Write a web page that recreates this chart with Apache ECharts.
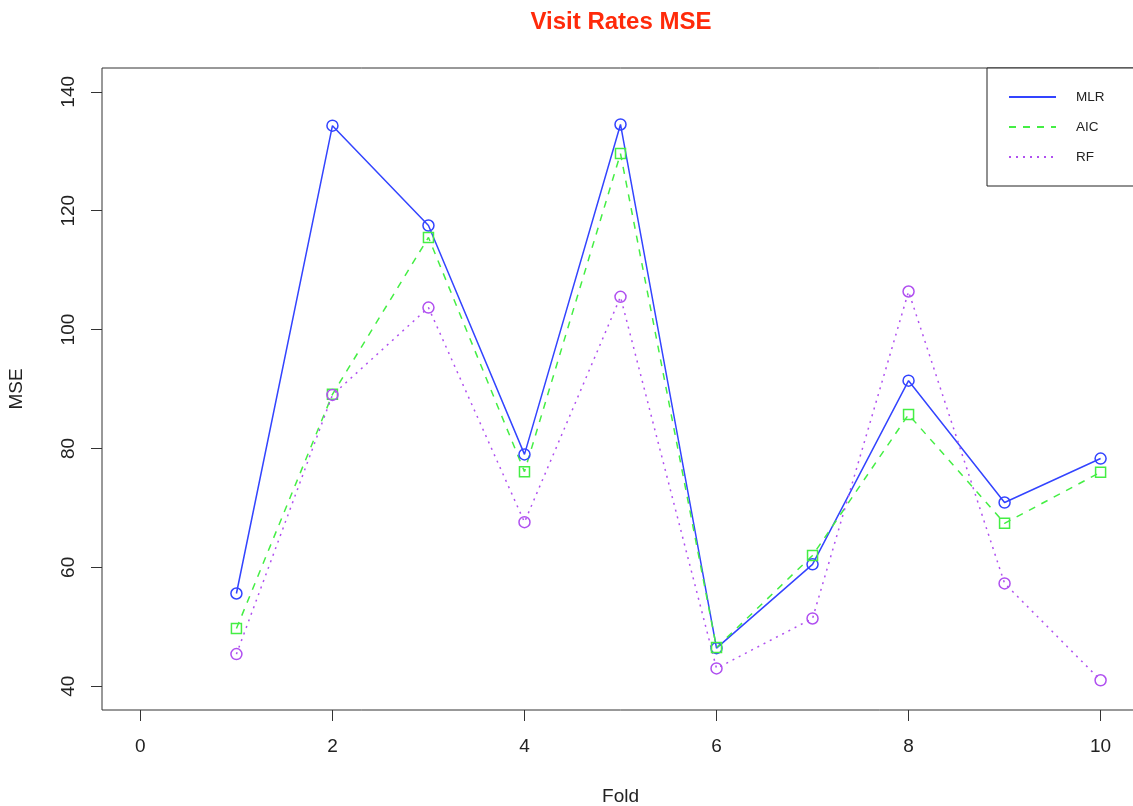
<!DOCTYPE html>
<html>
<head>
<meta charset="utf-8">
<script src="https://cdn.jsdelivr.net/npm/echarts@6/dist/echarts.min.js"></script>
<style>
html,body{margin:0;padding:0;background:#fff;overflow:hidden;}
#chart{width:1140px;height:806px;}
</style>
</head>
<body>
<div id="chart"></div>
<script>
var folds = [1, 2, 3, 4, 5, 6, 7, 8, 9, 10];
var mlr = [55.6, 134.3, 117.5, 79.0, 134.5, 46.4, 60.5, 91.4, 70.9, 78.3];
var aic = [49.7, 89.1, 115.5, 76.1, 129.6, 46.5, 62.0, 85.7, 67.4, 76.0];
var rf  = [45.4, 89.0, 103.7, 67.6, 105.5, 43.0, 51.4, 106.4, 57.3, 41.0];
var xTicks = [0, 2, 4, 6, 8, 10];
var yTicks = [40, 60, 80, 100, 120, 140];

var FONT = '"Liberation Sans", Arial, Helvetica, sans-serif';
function pairs(vals){ return folds.map(function(f, i){ return [f, vals[i]]; }); }

var chart = echarts.init(document.getElementById('chart'), null, {renderer: 'canvas', width: 1140, height: 806});
var opt = {
  backgroundColor: '#ffffff',
  animation: false,
  textStyle: {fontFamily: FONT},
  title: {
    text: 'Visit Rates MSE',
    left: 616, top: 5, textAlign: 'center',
    textStyle: {color: '#ff2a0a', fontSize: 24, fontWeight: 'bold', fontFamily: FONT}
  },
  grid: {left: 102, top: 68, width: 1037, height: 642, show: true, borderColor: '#333', borderWidth: 1, backgroundColor: 'transparent', containLabel: false, outerBoundsMode: 'none'},
  legend: {
    orient: 'vertical', left: 987, top: 68,
    padding: [22, 40, 22, 21],
    itemWidth: 47, itemHeight: 14, itemGap: 16,
    borderColor: '#222', borderWidth: 1, backgroundColor: '#fff',
    itemStyle: {opacity: 0},
    textStyle: {fontSize: 13.5, color: '#222', fontFamily: FONT, padding: [0, 0, 0, 15]},
    data: ['MLR', 'AIC', 'RF']
  },
  xAxis: {
    type: 'value', min: -0.4, max: 10.4,
    name: 'Fold', nameLocation: 'middle', nameGap: 77,
    nameTextStyle: {fontSize: 19, color: '#222', fontFamily: FONT},
    axisLine: {show: false, onZero: false},
    axisTick: {show: true, length: 11, customValues: xTicks, lineStyle: {color: '#333', width: 1}},
    axisLabel: {customValues: xTicks, margin: 27, fontSize: 19, color: '#222', fontFamily: FONT},
    splitLine: {show: false}
  },
  yAxis: {
    type: 'value', min: 36, max: 144,
    name: 'MSE', nameLocation: 'middle', nameGap: 76,
    nameTextStyle: {fontSize: 19, color: '#222', fontFamily: FONT},
    axisLine: {show: false, onZero: false},
    axisTick: {show: true, length: 11, customValues: yTicks, lineStyle: {color: '#333', width: 1}},
    axisLabel: {customValues: yTicks, margin: 24, rotate: 90, fontSize: 19, color: '#222', fontFamily: FONT},
    splitLine: {show: false}
  },
  series: [
    {
      name: 'MLR', type: 'line', data: pairs(mlr),
      symbol: 'circle', symbolSize: 11,
      lineStyle: {color: '#3344ff', width: 1.5, type: 'solid'},
      itemStyle: {color: 'rgba(0,0,0,0)', borderColor: '#3344ff', borderWidth: 1.5},
      emphasis: {disabled: true}
    },
    {
      name: 'AIC', type: 'line', data: pairs(aic),
      symbol: 'rect', symbolSize: 10,
      lineStyle: {color: '#44ee44', width: 1.5, type: [7, 7]},
      itemStyle: {color: 'rgba(0,0,0,0)', borderColor: '#44ee44', borderWidth: 1.5},
      emphasis: {disabled: true}
    },
    {
      name: 'RF', type: 'line', data: pairs(rf),
      symbol: 'circle', symbolSize: 11,
      lineStyle: {color: '#b050f0', width: 1.5, type: [2, 5]},
      itemStyle: {color: 'rgba(0,0,0,0)', borderColor: '#b050f0', borderWidth: 1.5},
      emphasis: {disabled: true}
    }
  ]
};
chart.setOption(opt);
</script>
</body>
</html>
